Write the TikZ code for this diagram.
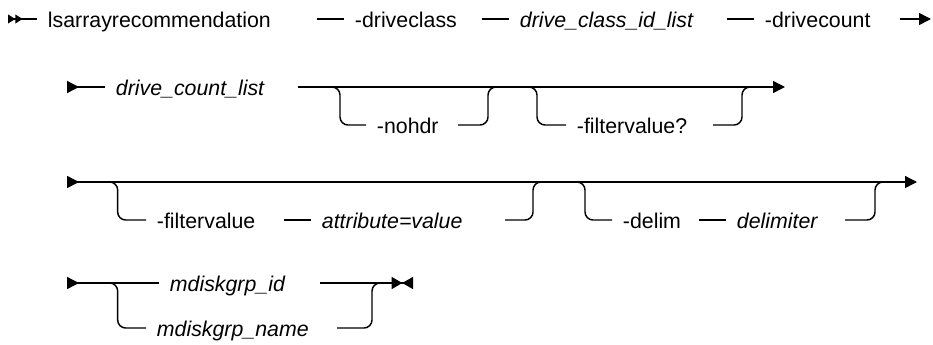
\documentclass[tikz,border=0pt]{standalone}
\usepackage{fontspec}
\setmainfont{Liberation Sans}
\usepackage{tikz}
\usetikzlibrary{arrows.meta}
\newcommand{\railfont}{\fontsize{16pt}{19pt}\selectfont}
\tikzset{
  rail/.style={line width=1.1pt},
  opt/.style={rail, rounded corners=6pt},
  kw/.style={anchor=west, inner xsep=8pt, inner ysep=0pt, text height=12pt, text depth=0pt, font=\railfont},
  var/.style={kw, font=\railfont\itshape},
  starttip/.style={rail, {Triangle[reversed,length=5.5pt,width=6.5pt]Triangle[reversed,length=5.5pt,width=6.5pt]}-},
  headtip/.style={rail, {Triangle[reversed,length=9pt,width=9pt]}-},
  tailtip/.style={rail, -{Triangle[length=9pt,width=9pt]}},
  fulltip/.style={rail, {Triangle[reversed,length=9pt,width=9pt]}-{Triangle[length=9pt,width=9pt]}},
  endtip/.style={rail, -{Triangle[length=8pt,width=9pt]Triangle[reversed,length=8pt,width=9pt]}}
}

\begin{document}
\begin{tikzpicture}[x=0.75pt, y=-0.75pt]
    \useasboundingbox (0,0) rectangle (933,344);

    % first line
    \coordinate (start) at (8,19);
    \node[kw] (cmd) at (37,19) {lsarrayrecommendation};
    \node[kw] (dclass) at (344,19) {-driveclass};
    \node[var] (dclassid) at (509,19) {drive\_class\_id\_list};
    \node[kw] (dcount) at (754,19) {-drivecount};
    \coordinate (r1) at (900,19);
    \coordinate (cont1) at (931,19);
    \draw[starttip] (start) -- (cmd.west);
    \draw[rail] ([xshift=-20pt]dclass.west) -- (dclass.west);
    \draw[rail] ([xshift=-20pt]dclassid.west) -- (dclassid.west);
    \draw[rail] ([xshift=-20pt]dcount.west) -- (dcount.west);
    \draw[tailtip] (r1) -- (cont1);

    % second line
    \coordinate (head2) at (67,87);
    \node[var] (dcl) at (105,87) {drive\_count\_list};
    \coordinate (r2) at (298,87);
    \coordinate (cont2) at (785,87);
    \draw[headtip] (head2) -- (dcl.west);
    \draw[tailtip] (r2) -- (cont2);
    % -nohdr
    \coordinate (o1) at (328,87);
    \coordinate (j1) at (500,87);
    \coordinate (e1) at (458,125);
    \node[kw] (nohdr) at (366,125) {-nohdr};
    \draw[opt] (o1) -- ([xshift=9pt]o1) |- (nohdr.west);
    \draw[opt] (e1) -| ([xshift=-9pt]j1) -- (j1);
    % -filtervalue?
    \coordinate (o2) at (525,87);
    \coordinate (j2) at (754,87);
    \coordinate (e2) at (713,125);
    \node[kw] (filtq) at (566,125) {-filtervalue?};
    \draw[opt] (o2) -- ([xshift=9pt]o2) |- (filtq.west);
    \draw[opt] (e2) -| ([xshift=-9pt]j2) -- (j2);

    % third line
    \coordinate (head3) at (67,182);
    \coordinate (cont3) at (917,182);
    \draw[fulltip] (head3) -- (cont3);
    % -filtervalue attribute=value
    \coordinate (o3) at (107,182);
    \coordinate (j3) at (545,182);
    \coordinate (e3) at (505,220);
    \node[kw] (filt) at (146,220) {-filtervalue};
    \node[var] (attr) at (311,220) {attribute=value};
    \draw[opt] (o3) -- ([xshift=8pt]o3) |- (filt.west);
    \draw[rail] ([xshift=-20pt]attr.west) -- (attr.west);
    \draw[opt] (e3) -| ([xshift=-9pt]j3) -- (j3);
    % -delim delimiter
    \coordinate (o4) at (575,182);
    \coordinate (j4) at (885,182);
    \coordinate (e4) at (845,220);
    \node[kw] (delim) at (612,220) {-delim};
    \node[var] (delimv) at (726,220) {delimiter};
    \draw[opt] (o4) -- ([xshift=7.5pt]o4) |- (delim.west);
    \draw[rail] ([xshift=-20pt]delimv.west) -- (delimv.west);
    \draw[opt] (e4) -| ([xshift=-7.5pt]j4) -- (j4);

    % fourth line
    \coordinate (head4) at (67,283);
    \coordinate (o5) at (107,283);
    \coordinate (e5) at (320,283);
    \coordinate (e6) at (337,328);
    \coordinate (j5) at (384,283);
    \coordinate (fin) at (413,283);
    \node[var] (gid) at (159,283) {mdiskgrp\_id};
    \node[var] (gname) at (146,328) {mdiskgrp\_name};
    \draw[headtip] (head4) -- (gid.west);
    \draw[opt] (o5) -- ([xshift=8pt]o5) |- (gname.west);
    \draw[endtip] (e5) -- (fin);
    \draw[opt] (e6) -| ([xshift=-9pt]j5) -- (j5);
\end{tikzpicture}
\end{document}
